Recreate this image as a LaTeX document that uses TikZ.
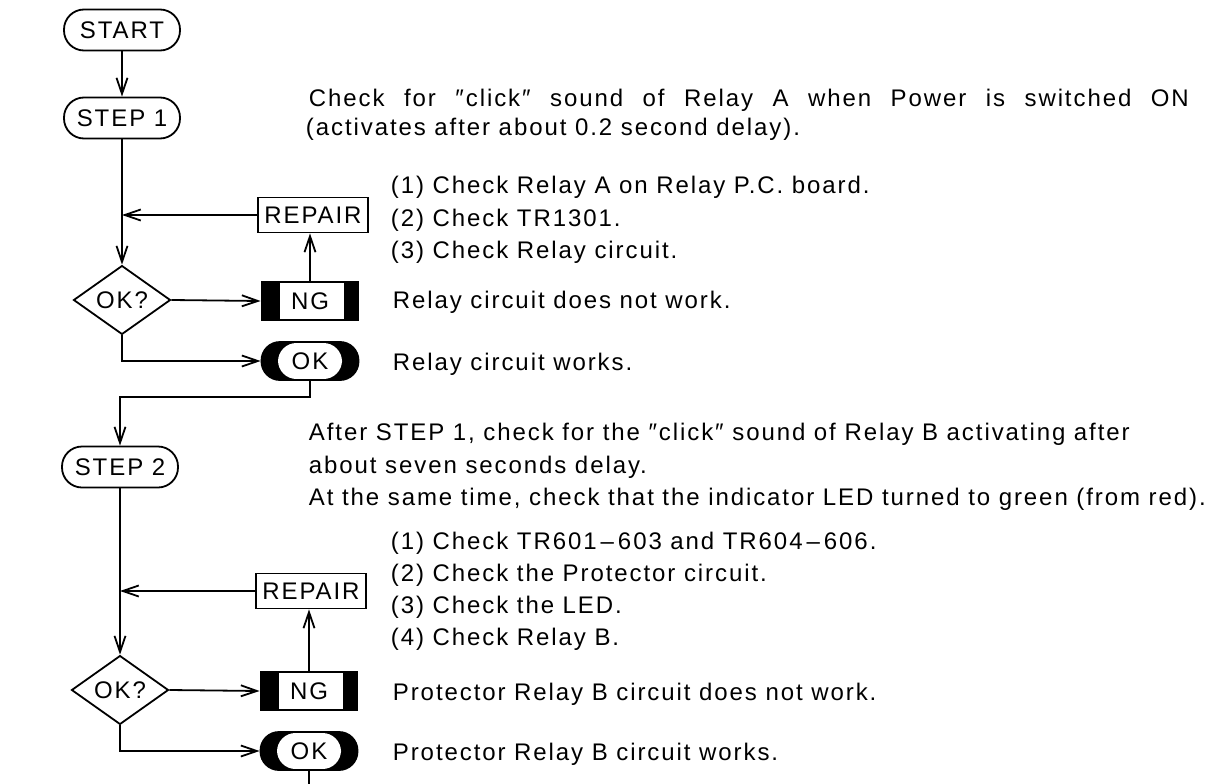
\documentclass[tikz,border=0pt]{standalone}
\usepackage{fontspec}
\setmainfont{Liberation Sans}[LetterSpace=8]
\usetikzlibrary{arrows.meta,shapes.geometric,calc}
\begin{document}
\begin{tikzpicture}[x=1pt,y=-1pt,
  line width=1.8pt,
  every node/.style={font=\fontsize{24}{30}\selectfont},
  arr/.style={-{Straight Barb[length=16pt,width=11pt]}},
  term/.style={draw, rounded corners=20pt, minimum width=116pt, minimum height=41pt, inner sep=0pt},
  repbox/.style={draw, minimum width=110pt, minimum height=35pt, inner sep=0pt},
  dec/.style={draw, diamond, minimum width=97pt, minimum height=56pt, inner sep=0pt},
  ngbox/.style={draw, minimum width=97pt, minimum height=38pt, inner sep=0pt,
    path picture={\fill (path picture bounding box.north west) rectangle ([xshift=18pt]path picture bounding box.south west);
                  \fill (path picture bounding box.north east) rectangle ([xshift=-15pt]path picture bounding box.south east);}},
  okbox/.style={draw, fill=black, rounded corners=18.5pt, minimum width=97pt, minimum height=38pt, inner sep=0pt,
    path picture={\fill[white] ([xshift=-32pt,yshift=-18pt]path picture bounding box.center) rectangle ([xshift=32pt,yshift=18pt]path picture bounding box.center);}},
  txt/.style={anchor=base west, inner sep=0pt}
]
\useasboundingbox (0,0) rectangle (1231,784);
\fill[white] (0,0) rectangle (1231,784);

\node[term] (start) at (122,30) {START};
\node[term] (step1) at (122,118) {STEP 1};
\node[repbox] (rep1) at (313,215) {REPAIR};
\node[dec] (dec1) at (122,300) {OK?};
\node[ngbox] (ng1) at (310,301) {NG};
\node[okbox] (ok1) at (310,361) {OK};
\coordinate (j1) at (120,397);
\node[term] (step2) at (120,467) {STEP 2};
\node[repbox] (rep2) at (311,591) {REPAIR};
\node[dec] (dec2) at (120,690) {OK?};
\node[ngbox] (ng2) at (309,691) {NG};
\node[okbox] (ok2) at (309,751) {OK};
\coordinate (bot) at (309,790);

\draw[arr] (start) -- (step1);
\draw[arr] (step1) -- (dec1);
\draw[arr] (rep1.west) -- (rep1.west -| step1.south);
\draw[arr] (dec1.east) -- (ng1.west);
\draw[arr] (ng1.north) -- (ng1.north |- rep1.south);
\draw[arr] (dec1.south) |- (ok1.west);
\draw[arr] (ok1.south) |- (j1) -- (step2.north);

\draw[arr] (step2) -- (dec2);
\draw[arr] (rep2.west) -- (rep2.west -| step2.south);
\draw[arr] (dec2.east) -- (ng2.west);
\draw[arr] (ng2.north) -- (ng2.north |- rep2.south);
\draw[arr] (dec2.south) |- (ok2.west);
\draw (ok2.south) -- (bot);

\node[txt] (t1) at (308,106.5) {\makebox[880pt][s]{Check for ″click″ sound of Relay A when Power is switched ON}};
\node[txt] (t2) at (305,135.5) {(activates after about 0.2 second delay).};
\node[txt] (l1) at (390,193.5) {(1) Check Relay A on Relay P.C. board.};
\node[txt] (l2) at (390,226.5) {(2) Check TR1301.};
\node[txt] (l3) at (390,258.5) {(3) Check Relay circuit.};
\node[txt] (n1) at (392,308.5) {Relay circuit does not work.};
\node[txt] (o1) at (392,370.5) {Relay circuit works.};
\node[txt] (t3) at (308,440.5) {After STEP 1, check for the ″click″ sound of Relay B activating after};
\node[txt] (t4) at (308,473.5) {about seven seconds delay.};
\node[txt] (t5) at (308,505.5) {At the same time, check that the indicator LED turned to green (from red).};
\node[txt] (m1) at (390,549.5) {(1) Check TR601\,–\,603 and TR604\,–\,606.};
\node[txt] (m2) at (390,581.5) {(2) Check the Protector circuit.};
\node[txt] (m3) at (390,613.5) {(3) Check the LED.};
\node[txt] (m4) at (390,645.5) {(4) Check Relay B.};
\node[txt] (n2) at (392,700.5) {Protector Relay B circuit does not work.};
\node[txt] (o2) at (392,760.5) {Protector Relay B circuit works.};
\end{tikzpicture}
\end{document}
